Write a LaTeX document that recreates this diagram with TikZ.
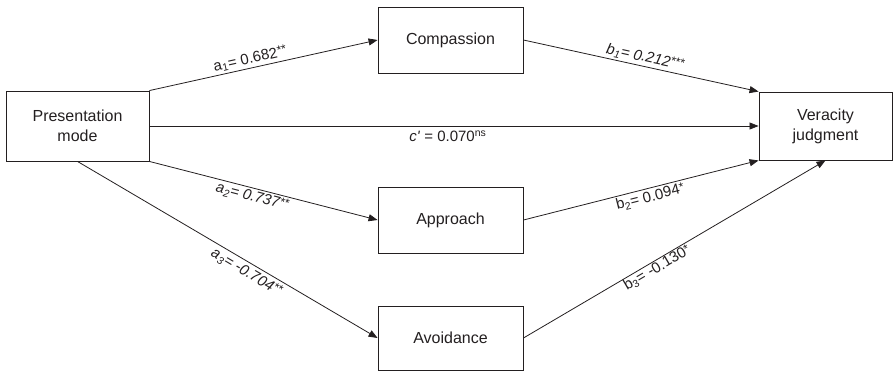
\documentclass[tikz,border=0pt]{standalone}
\usepackage{fontspec}
\setmainfont{Liberation Sans}
\usetikzlibrary{arrows.meta}
\definecolor{ink}{HTML}{231F20}
\newcommand\starsup[1]{\raisebox{2.5pt}{\fontsize{12}{12}\selectfont #1}}
\begin{document}
\begin{tikzpicture}[x=1pt,y=-1pt,
  box/.style={draw=ink, line width=0.9pt, inner sep=0pt, align=center, text=ink,
    font=\fontsize{16}{20}\selectfont},
  conn/.style={draw=ink, line width=0.8pt, -{Triangle[length=9pt,width=7pt]}},
  lab/.style={font=\fontsize{15}{17}\selectfont, text=ink, sloped, inner sep=2pt}]
\useasboundingbox (0,0) rectangle (894,373);
\node[box, minimum width=143pt, minimum height=70pt] (pm) at (77.5,126) {Presentation\\mode};
\node[box, minimum width=145pt, minimum height=66pt] (comp) at (450.5,40) {Compassion};
\node[box, minimum width=145pt, minimum height=66pt] (app) at (450.5,220) {Approach};
\node[box, minimum width=145pt, minimum height=64pt] (avo) at (450.5,338) {Avoidance};
\node[box, minimum width=133pt, minimum height=68pt] (ver) at (825.5,126) {Veracity\\judgment};

\draw[conn] (pm.north east) -- node[lab, above, pos=0.45] {a\textsubscript{1}= 0.682\starsup{**}} (comp.west);
\draw[conn] (comp.east) -- node[lab, above, pos=0.51] {\textit{b\textsubscript{1}}\textit{= 0.212\starsup{***}}} (ver.north west);
\draw[conn] (pm.east) -- node[lab, below, pos=0.49, inner sep=4pt] {\textit{c\textquotesingle} = 0.070\textsuperscript{ns}} (ver.west);
\draw[conn] (pm.south east) -- node[lab, below, pos=0.46] {\textit{a\textsubscript{2}= 0.737\starsup{**}}} (app.west);
\draw[conn] (app.east) -- node[lab, below, pos=0.53] {b\textsubscript{2}= 0.094\starsup{*}} (ver.south west);
\draw[conn] (pm.south) -- node[lab, below, pos=0.58, inner sep=3pt] {\textit{a\textsubscript{3}= -0.704\starsup{**}}} (avo.west);
\draw[conn] (avo.east) -- node[lab, below, pos=0.43, inner sep=0.5pt] {b\textsubscript{3}= -0.130\starsup{*}} (ver.south);
\end{tikzpicture}
\end{document}
